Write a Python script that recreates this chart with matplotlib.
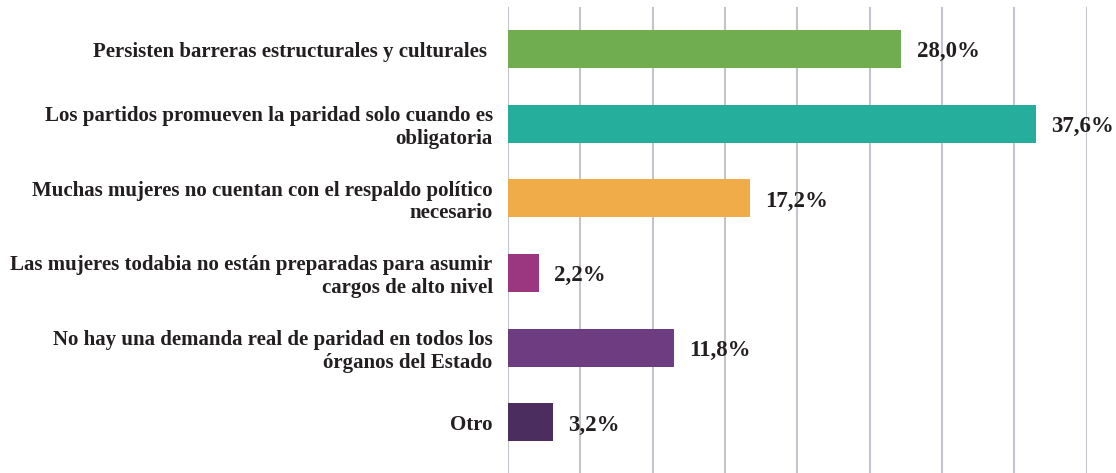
import matplotlib
matplotlib.use('Agg')
import matplotlib.pyplot as plt
import numpy as np

categories = [
    'Persisten barreras estructurales y culturales ',
    'Los partidos promueven la paridad solo cuando es\nobligatoria',
    'Muchas mujeres no cuentan con el respaldo político\nnecesario',
    'Las mujeres todabia no están preparadas para asumir\ncargos de alto nivel',
    'No hay una demanda real de paridad en todos los\nórganos del Estado',
    'Otro',
]
values = [28.0, 37.6, 17.2, 2.2, 11.8, 3.2]
value_labels = ['28,0%', '37,6%', '17,2%', '2,2%', '11,8%', '3,2%']
colors = ['#70AC50', '#25AE9B', '#F0AC48', '#9B3780', '#6E3C80', '#4B2D5F']

plt.rcParams['font.family'] = ['Liberation Serif', 'DejaVu Serif']
text_color = '#231F20'

fig = plt.figure(figsize=(11.16, 4.73), dpi=100)
ax = fig.add_axes([0.4552, 0.0, 0.5185, 0.9852])

y = np.arange(len(categories))
ax.barh(y, values, height=0.51, color=colors, zorder=3)

# axis range so that bars and gridlines line up with the original
xmax = 41.2
ax.set_xlim(0, xmax)
ax.set_ylim(5.68, -0.563)
ax.set_xticks(np.linspace(0, xmax, 9))
ax.xaxis.grid(True, color='#C4C4CC', linewidth=1.5, zorder=0)
ax.tick_params(axis='x', length=0, labelbottom=False)
ax.tick_params(axis='y', length=0, pad=11)
ax.set_yticks(y)
ax.set_yticklabels(categories, fontsize=15, fontweight='bold', color=text_color,
                   linespacing=1.17)
for spine in ax.spines.values():
    spine.set_visible(False)

# value labels next to each bar
for yi, v, lab in zip(y, values, value_labels):
    ax.annotate(lab, (v, yi), xytext=(11, -2), textcoords='offset points',
                va='center', ha='left', fontsize=16.5, fontweight='bold',
                color=text_color, annotation_clip=False)

fig.savefig('out.png', dpi=100)
